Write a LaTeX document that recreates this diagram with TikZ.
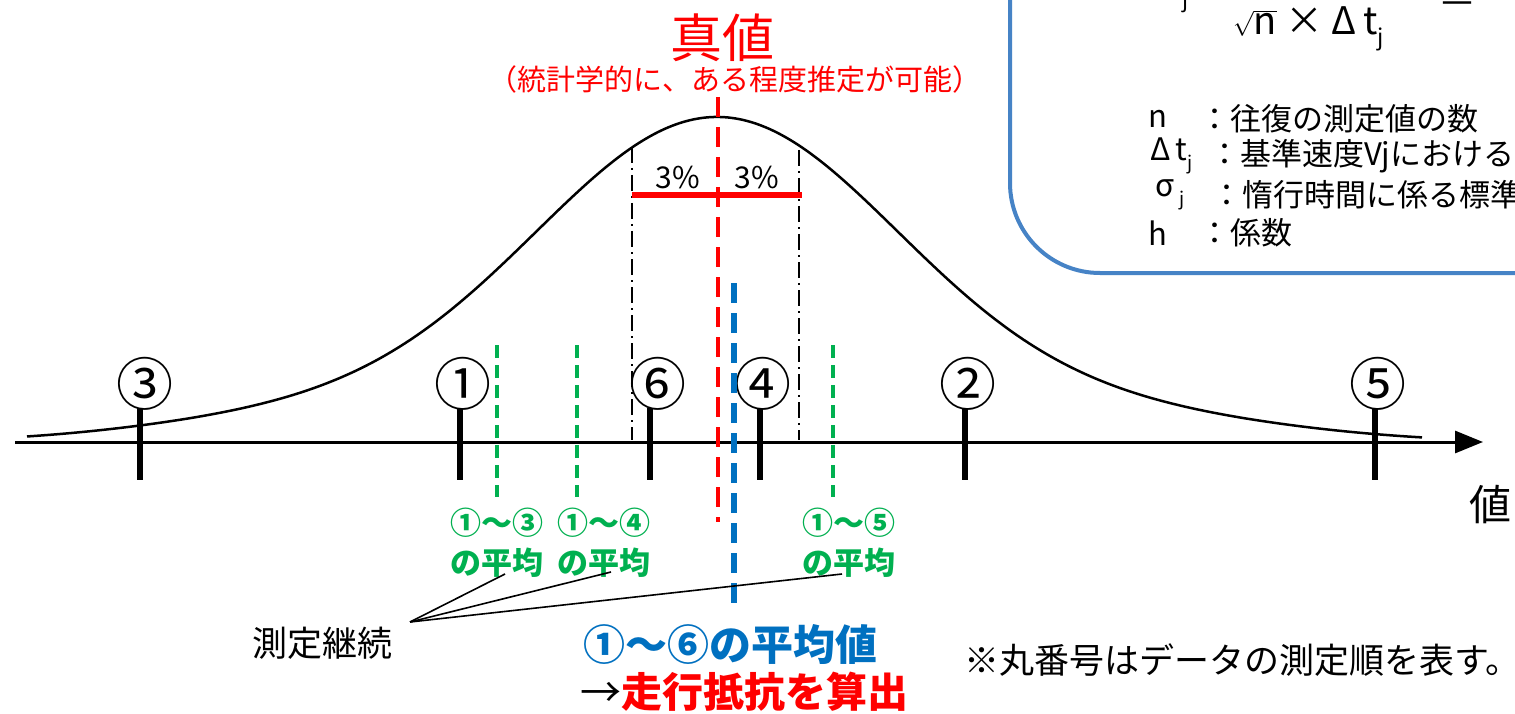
\documentclass[tikz,border=0pt]{standalone}
\usepackage{fontspec}
\setmainfont{Noto Sans CJK JP}
\usetikzlibrary{arrows.meta}
\definecolor{tred}{HTML}{FF0000}
\definecolor{tgreen}{HTML}{00B050}
\definecolor{tblue}{HTML}{0070C0}
\definecolor{boxblue}{HTML}{4683C6}
\newcommand\fs[1]{\fontsize{#1}{#1}\selectfont}
\newcommand\sbj{\raisebox{-0.28em}{\scalebox{0.6}{j}}}
\begin{document}
\begin{tikzpicture}[x=1pt,y=-1pt,
  every node/.style={inner sep=0pt, outer sep=0pt},
  tickmark/.style={line width=6pt},
  circnum/.style={font=\fs{57}},
  grn/.style={text=tgreen, font=\fs{31}\bfseries},
  gdash/.style={tgreen, line width=4pt, dash pattern=on 13pt off 7pt},
  rdash/.style={tred, line width=4pt, dash pattern=on 20pt off 10pt},
  bdash/.style={tblue, line width=6pt, dash pattern=on 20pt off 10pt},
  ddot/.style={line width=1.5pt, dash pattern=on 16pt off 5pt on 2pt off 5pt},
  leader/.style={line width=1.6pt},
  boxtxt/.style={font=\fs{31}, anchor=west},
]
\useasboundingbox (0,0) rectangle (1515,714);
\clip (0,0) rectangle (1515,714);
\fill[white] (0,0) rectangle (1515,714);

% formula box (cropped)
\draw[boxblue, line width=4pt, rounded corners=90pt] (1010,-100) -- (1010,273) -- (1700,273);
\node[anchor=base west, font=\fs{38}] (den) at (1233,35) {$\sqrt{\hbox{n}}$ × Δ\,t\sbj};
\node[anchor=base, font=\fs{22}] (lhsj) at (1186,8) {j};
\node[anchor=base west, font=\fs{38}] (leq) at (1438,3) {≦};

\node[boxtxt] (r1a) at (1148,119) {n};
\node[boxtxt] (r1b) at (1199,119) {：往復の測定値の数};
\node[boxtxt] (r2a) at (1150,156) {Δ\,t\sbj};
\node[boxtxt] (r2b) at (1209,156) {：基準速度Vjにおける};
\node[boxtxt] (r3a) at (1155,195) {σ\,\sbj};
\node[boxtxt] (r3b) at (1211,195) {：惰行時間に係る標準};
\node[boxtxt] (r4a) at (1148,233) {h};
\node[boxtxt] (r4b) at (1199,233) {：係数};

% bell curve
\draw[line width=2.5pt] plot[domain=27:1422, samples=200, smooth]
  (\x, {442 - 285*exp(-((\x-717)/100)^2/6.377) - 40*exp(-(((\x-717)/100)^2/33.6)^2)});

% axis
\coordinate (ax0) at (15,442);
\coordinate (ax1) at (1483,442);
\draw[line width=3pt, -{Triangle[length=28pt,width=22pt]}] (ax0) -- (ax1);

% +-3% band
\draw[ddot] (632,147) -- (632,440);
\draw[ddot] (799,150) -- (799,440);
\draw[tred, line width=6pt] (632,195) -- (802,195);
\node[font=\fs{30}] (p1) at (678,178) {3\%};
\node[font=\fs{30}] (p2) at (757,178) {3\%};

% running averages
\draw[gdash] (497,345) -- (497,497);
\draw[gdash] (577,345) -- (577,497);
\draw[gdash] (833,345) -- (833,497);

% measurements
\foreach \tx in {140,460,650,760,965,1375}
  \draw[tickmark] (\tx,408) -- (\tx,480);
\node[circnum] (m3) at (145,384) {③};
\node[circnum] (m1) at (463,384) {①};
\node[circnum] (m6) at (658,384) {⑥};
\node[circnum] (m4) at (763,384) {④};
\node[circnum] (m2) at (968,384) {②};
\node[circnum] (m5) at (1378,384) {⑤};

% true value and mean
\draw[rdash] (718,97) -- (718,522);
\draw[bdash] (734,283) -- (734,607);

\node[text=tred, font=\fs{52}] (shinchi) at (722,38) {真値};
\node[text=tred, font=\fs{29}] (suitei) at (735,79) {（統計学的に、ある程度推定が可能）};

\node[grn] (g3a) at (497,523) {①～③};
\node[grn] (g3b) at (497,563) {の平均};
\node[grn] (g4a) at (604,523) {①～④};
\node[grn] (g4b) at (604,563) {の平均};
\node[grn] (g5a) at (849,523) {①～⑤};
\node[grn] (g5b) at (849,563) {の平均};

\node[font=\fs{35}] (keizoku) at (322,643) {測定継続};
\coordinate (src) at (410,622);
\coordinate (t3) at (505,574);
\coordinate (t4) at (611,572);
\coordinate (t5) at (842,574);
\draw[leader] (src) -- (t3);
\draw[leader] (src) -- (t4);
\draw[leader] (src) -- (t5);

\node[text=tblue, font=\fs{42}\bfseries] (avg) at (730,645) {①～⑥の平均値};
\node[anchor=west, font=\fs{41}] (calc) at (580,692) {→{\bfseries\color{tred}走行抵抗を算出}};

\node[font=\fs{35}, anchor=west] (note) at (964,660) {※丸番号はデータの測定順を表す。};
\node[font=\fs{42}] (atai) at (1490,505) {値};
\end{tikzpicture}
\end{document}
